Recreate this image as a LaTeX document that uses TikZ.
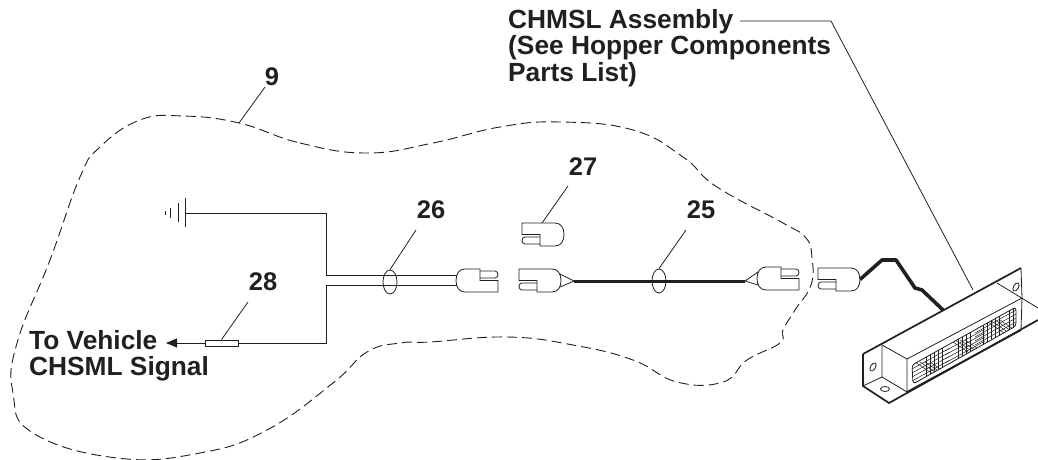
\documentclass[tikz,border=0pt]{standalone}
\usepackage{fontspec}
\setmainfont{Liberation Sans}
\usetikzlibrary{arrows.meta,shapes.geometric}
\definecolor{ink}{HTML}{231F20}
\tikzset{
  x=1pt,y=-1pt,
  line/.style={draw=ink,line width=0.9pt},
  leader/.style={draw=ink,line width=0.8pt},
  callout/.style={font=\fontsize{25.5}{26.5}\selectfont\bfseries,text=ink,inner sep=0pt},
  note/.style={font=\fontsize{26.3}{26.5}\selectfont\bfseries,text=ink,inner sep=0pt,anchor=north west,align=left},
  cable/.style={draw=ink,line width=3pt,line join=round},
  band/.style={draw=ink,line width=0.8pt},
  rim/.style={draw=ink,line width=1.7pt},
  hatch/.style={draw=ink,line width=0.5pt},
  tie/.style={draw=ink,line width=0.8pt,ellipse,minimum width=14pt,minimum height=24pt,inner sep=0pt},
  plug/.pic={
    \draw[line,line width=0.8pt,fill=white](0,0)--(0,11.5)--(18,11.5)--(18,23)--(33,23)
      ..controls(39,23)and(42,18)..(42,11.5)..controls(42,5)and(39,0)..(33,0)--cycle;
    \draw[line,line width=0.8pt](18,14)--(3,14)..controls(-1,14)and(-1,21)..(3,21)--(18,21);
    \coordinate(-up)at(41,5);
    \coordinate(-mid)at(42,11.5);
    \coordinate(-low)at(41,18);
    \coordinate(-wa)at(41,17);
    \coordinate(-wb)at(41,7);
  }
}
\begin{document}
\begin{tikzpicture}
\useasboundingbox(0,0)rectangle(1038,460);

\node[note](assembly)at(508,9){CHMSL Assembly\\(See Hopper Components\\Parts List)};
\node[note](signal)at(29,330){To Vehicle\\CHSML Signal};
\node[callout](num9)at(272,77){9};
\node[callout](num26)at(431,210){26};
\node[callout](num27)at(583,167){27};
\node[callout](num25)at(701,210){25};
\node[callout](num28)at(263,282){28};

\draw[ink,line width=0.9pt,dash pattern=on 10pt off 5pt,smooth cycle,tension=0.75] plot coordinates{
  (239,123)(300,143)(367,153)(433,143)(500,127)(560,122)(633,130)(683,157)(717,187)(783,223)
  (806,238)(812,258)(811,285)(795,310)(783,330)(780,343)(747,360)(723,382)(677,382)(633,360)
  (573,345)(507,337)(430,342)(400,343)(367,352)(333,383)(267,430)(200,453)(117,458)(33,433)
  (13,393)(17,343)(50,260)(80,177)(100,147)(140,120)(183,116)};

\coordinate(blob9)at(239,123);
\coordinate(gnd)at(185,213);
\coordinate(split)at(326,275);
\coordinate(splitb)at(326,285);
\coordinate(sig)at(326,343);

\draw[line](185,198)--(185,227);
\draw[line](178,203)--(178,222);
\draw[line](170,208)--(170,218);
\draw[line](165,211)--(165,215);
\draw[line](gnd)--(326,213)--(split);
\draw[line](splitb)--(sig)--(238,343);
\node[draw=ink,line width=0.8pt,fill=white,minimum width=33pt,minimum height=6pt,inner sep=0pt](fuse)at(221.5,343){};
\draw[line,-{Triangle[length=11pt,width=9pt]}](fuse.west)--(166,343);

\pic(plugA)at(498,292)[rotate=180]{plug};
\pic(plugB)at(519,269){plug};
\pic(plugC)at(799,290)[rotate=180]{plug};
\pic(plugD)at(522,223){plug};
\pic(plugE)at(818,268){plug};

\draw[line](split)--(plugA-wa);
\draw[line](splitb)--(plugA-wb);

\coordinate(tipB)at(574,281);
\coordinate(tipC)at(745,281);
\draw[line,line width=0.8pt](plugB-up)--(tipB)--(plugB-low);
\draw[line,line width=0.8pt](plugC-low)--(tipC)--(plugC-up);
\draw[cable](tipB)--(tipC);

\node[tie](tie26)at(390,282){};
\node[tie](tie25)at(659,281){};

\draw[leader](265,87)--(blob9);
\draw[leader](416,230)--(tie26.north);
\draw[leader](568,186)--(542,223);
\draw[leader](686,230)--(tie25.north);
\draw[leader](248,302)--(fuse.north);

\coordinate(bend)at(831,21);
\coordinate(housing)at(973,290);
\draw[leader](740,21)--(bend)--(housing);

\draw[cable,line width=3.6pt](plugE-mid)--(882,260)--(896,260)--(915,288)--(922,290)--(943,310);

\coordinate(a1)at(863,354);
\coordinate(a2)at(1021,268);
\coordinate(a3)at(1022,298);
\coordinate(a4)at(1021,330);
\coordinate(a5)at(889,403);
\coordinate(a6)at(863,386);
\coordinate(a7)at(882,345);
\coordinate(a8)at(882,377);
\coordinate(a9)at(907,359);
\coordinate(a10)at(907,392);

\draw[rim](a1)--(a2);
\draw[band](a2)--(a3)--(a4);
\draw[rim](a1)--(a6)--(a5)--(1038,320);
\draw[band](a7)--(a8)--(a6);
\draw[band](a7)--(a9)--(a10)--(a8);
\draw[band](a9)--(a3);
\draw[rim](a10)--(a4);
\draw[band](997,283)--(1038,308);
\draw[band,rotate around={60:(873,367)}](873,367)ellipse[x radius=4.5,y radius=2.5];
\draw[band](885,389)ellipse[x radius=4.5,y radius=2.5];
\draw[band,rotate around={60:(1016,287)}](1016,287)ellipse[x radius=4.5,y radius=2.5];

\begin{scope}
\clip[rounded corners=3pt](912,365)--(1016,307)--(1016,326)--(913,384)--cycle;
\foreach \xa in {926,930,934,938,942,958,962,966,970,983,987,991,995,999,1009,1013}
  \draw[hatch](\xa,300)--(\xa,390);
\foreach \ya in {0,4,8,12}{
  \draw[hatch](912,369+\ya)--(950,348+\ya);
  \draw[hatch](945,351+\ya)--(985,329+\ya);
  \draw[hatch](975,333+\ya)--(1016,310+\ya);
}
\foreach \xb in {0,5,10,15}{
  \draw[hatch](915+\xb,362)--(945+\xb,382);
  \draw[hatch](950+\xb,340)--(980+\xb,360);
  \draw[hatch](985+\xb,320)--(1010+\xb,337);
}
\end{scope}
\draw[band,rounded corners=3pt](912,365)--(1016,307)--(1016,326)--(913,384)--cycle;
\end{tikzpicture}
\end{document}
